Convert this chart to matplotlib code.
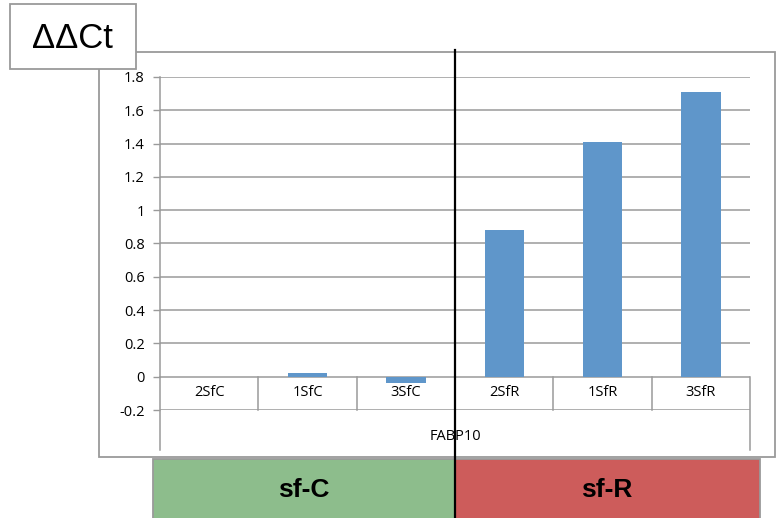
import matplotlib
matplotlib.use("Agg")
import matplotlib.pyplot as plt
from matplotlib.patches import Rectangle
from matplotlib.lines import Line2D

categories = ['2SfC', '1SfC', '3SfC', '2SfR', '1SfR', '3SfR']
values = [0.0, 0.02, -0.04, 0.88, 1.41, 1.71]
yticks = [-0.2, 0, 0.2, 0.4, 0.6, 0.8, 1, 1.2, 1.4, 1.6, 1.8]
gene = 'FABP10'
groups = ['sf-C', 'sf-R']

W, H = 782, 518
fig = plt.figure(figsize=(W / 100, H / 100), dpi=100)
plt.rcParams['font.family'] = ['Open Sans', 'DejaVu Sans']

def box(x0, y0, x1, y1):
    # pixel box (top-left origin) -> figure fraction rect
    return [x0 / W, 1 - y1 / H, (x1 - x0) / W, (y1 - y0) / H]

gray = '#9a9a9a'
fs = 10.5

# outer chart frame
r = box(99, 52, 775, 457)
fig.add_artist(Rectangle((r[0], r[1]), r[2], r[3], transform=fig.transFigure,
                         facecolor='white', edgecolor=gray, lw=1.3, zorder=0))

ax = fig.add_axes(box(160, 77, 750, 410))
ax.set_xlim(-0.5, len(categories) - 0.5)
ax.set_ylim(-0.2, 1.8)
for s in ax.spines.values():
    s.set_visible(False)
ax.set_yticks(yticks)
ax.set_yticklabels(['-0.2', '0', '0.2', '0.4', '0.6', '0.8', '1', '1.2', '1.4', '1.6', '1.8'],
                   fontsize=fs)
ax.tick_params(axis='y', length=5, color=gray, width=1, pad=6)
ax.set_xticks([])
ax.set_facecolor('none')
for t in yticks:
    ax.axhline(t, color=gray, lw=1.1, zorder=1)

ax.bar(range(len(categories)), values, width=0.4, color='#5f96ca', zorder=3)

# category separators and labels
n = len(categories)
for i in range(n + 1):
    x = i - 0.5
    ybot = -0.44 if i in (0, n) else -0.2
    ax.add_line(Line2D([x, x], [0, ybot], color=gray, lw=1.1, clip_on=False, zorder=2))
ax.add_line(Line2D([-0.5, -0.5], [0, 1.8], color=gray, lw=1.1, clip_on=False, zorder=2))
for i, c in enumerate(categories):
    ax.text(i, -0.095, c, ha='center', va='center', fontsize=fs, clip_on=False)
ax.text((n - 1) / 2, -0.36, gene, ha='center', va='center', fontsize=fs, clip_on=False)

# title box
r = box(10, 4, 136, 69)
fig.add_artist(Rectangle((r[0], r[1]), r[2], r[3], transform=fig.transFigure,
                         facecolor='white', edgecolor=gray, lw=1.3, zorder=5))
fig.text(72 / W, 1 - 38 / H, 'ΔΔCt', ha='center', va='center', fontsize=25,
         family=['Liberation Sans', 'DejaVu Sans'], zorder=6)

# group boxes
r = box(153, 459, 455, 530)
fig.add_artist(Rectangle((r[0], r[1]), r[2], r[3], transform=fig.transFigure,
                         facecolor='#8dbd8c', edgecolor=gray, lw=1.3, zorder=5))
r = box(455, 459, 760, 530)
fig.add_artist(Rectangle((r[0], r[1]), r[2], r[3], transform=fig.transFigure,
                         facecolor='#cd5c5b', edgecolor=gray, lw=1.3, zorder=5))
fig.text(304 / W, 1 - 490 / H, groups[0], ha='center', va='center', fontsize=19,
         fontweight='bold', family=['Liberation Sans', 'DejaVu Sans'], zorder=6)
fig.text(607 / W, 1 - 490 / H, groups[1], ha='center', va='center', fontsize=19,
         fontweight='bold', family=['Liberation Sans', 'DejaVu Sans'], zorder=6)

# divider line
fig.add_artist(Line2D([455 / W, 455 / W], [1 - 50 / H, 0], transform=fig.transFigure,
                      color='black', lw=1.6, zorder=10))

fig.savefig('out.png', dpi=100)
